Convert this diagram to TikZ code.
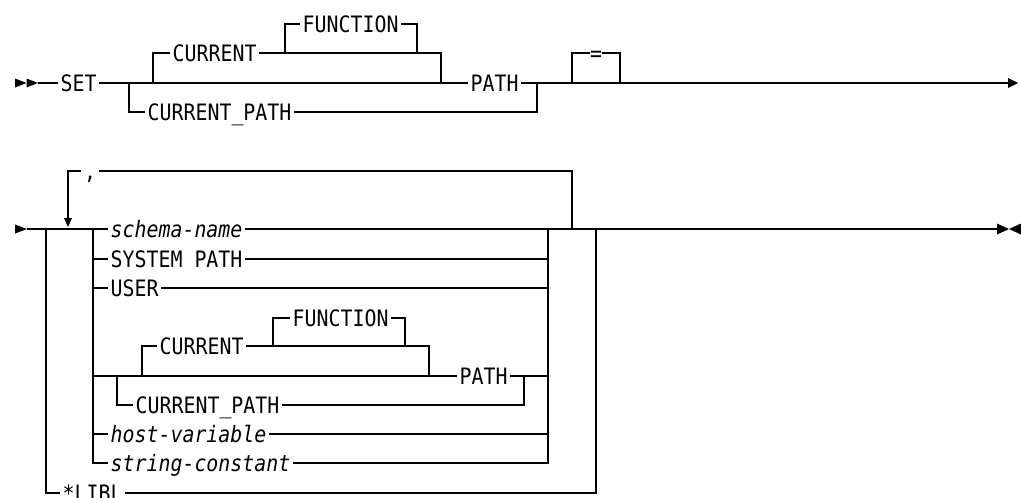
\documentclass[tikz,border=0pt]{standalone}
\usepackage{fontspec}
\setmainfont[FakeStretch=0.88]{DejaVu Sans Mono}
\begin{document}
\begin{tikzpicture}[x=1pt,y=-1pt,line width=1.4pt,
  lbl/.style={inner xsep=2pt,inner ysep=0pt,text height=16.5pt,text depth=0pt,anchor=west,
    font=\fontsize{22.6}{27}\selectfont},
  every path/.style={line cap=butt,line join=miter}]
\useasboundingbox (0,0) rectangle (1021,498);
% ---------- row 1 ----------
\fill (15,78.5) -- (26.5,83) -- (15,87.5) -- cycle;
\fill (26.5,78.5) -- (38,83) -- (26.5,87.5) -- cycle;
\coordinate (s1) at (38,83);
\node[lbl] (set) at (58,83) {SET};
\coordinate (j1) at (129,83);
\coordinate (j2) at (153,83);
\node[lbl] (cur1) at (170,53) {CURRENT};
\coordinate (j3) at (285,53);
\node[lbl] (fun1) at (300,24) {FUNCTION};
\coordinate (j4) at (417,53);
\coordinate (j5u) at (441,53);
\coordinate (j5) at (441,83);
\node[lbl] (path1) at (468,83) {PATH};
\node[lbl] (cp1) at (145,112) {CURRENT\_PATH};
\coordinate (j6) at (537,83);
\coordinate (e1) at (572,83);
\coordinate (e2) at (620,83);
\node[lbl,anchor=center,inner xsep=-1pt] (eq) at (596,53) {=};
\coordinate (end1) at (1008,83);
\draw (s1) -- (set.west);
\draw (set.east) -- (j1) -- (j5) -- (path1.west);
\draw (j2) |- (cur1.west);
\draw (cur1.east) -- (j5u) -- (j5);
\draw (j3) |- (fun1.west);
\draw (fun1.east) -| (j4);
\draw (j1) |- (cp1.west);
\draw (cp1.east) -| (j6);
\draw (path1.east) -- (end1);
\draw (e1) |- (eq.west);
\draw (eq.east) -| (e2);
\fill (1008,78) -- (1018,83) -- (1008,88) -- cycle;
% ---------- row 2 ----------
\fill (15,224.5) -- (27,229) -- (15,233.5) -- cycle;
\coordinate (s2) at (27,229);
\coordinate (k1) at (46,229);
\coordinate (k3) at (93,229);
\node[lbl] (schema) at (108,229) {\itshape schema-name};
\node[lbl] (sys) at (108,259) {SYSTEM PATH};
\node[lbl] (user) at (108,288) {USER};
\coordinate (g1) at (117,376);
\coordinate (g2) at (142,376);
\node[lbl] (cur2) at (157,346) {CURRENT};
\coordinate (g3) at (273,346);
\node[lbl] (fun2) at (290,318) {FUNCTION};
\coordinate (g4) at (405,346);
\coordinate (g5u) at (429,346);
\coordinate (g5) at (429,376);
\node[lbl] (path2) at (457,376) {PATH};
\node[lbl] (cp2) at (133,405) {CURRENT\_PATH};
\coordinate (g6) at (524,376);
\node[lbl] (host) at (108,434) {\itshape host-variable};
\node[lbl] (str) at (108,463) {\itshape string-constant};
\node[lbl] (libl) at (60,493) {*LIBL};
\coordinate (r1) at (548,229);
\coordinate (r2) at (572,229);
\coordinate (r3) at (596,229);
\node[lbl,anchor=center] (comma) at (90,171) {,};
\coordinate (lp) at (68,171);
\coordinate (lpd) at (68,218);
\coordinate (end2) at (997,229);
\draw (s2) -- (schema.west);
\draw (schema.east) -- (r3) -- (end2);
\draw (k3) |- (str.west);
\draw (k3 |- sys.west) -- (sys.west);
\draw (k3 |- user.west) -- (user.west);
\draw (k3 |- host.west) -- (host.west);
\draw (sys.east) -- (r1 |- sys.east);
\draw (user.east) -- (r1 |- user.east);
\draw (host.east) -- (r1 |- host.east);
\draw (str.east) -| (r1);
\draw (k3 |- path2.west) -- (path2.west);
\draw (g1) |- (cp2.west);
\draw (g2) |- (cur2.west);
\draw (cur2.east) -- (g5u) -- (g5);
\draw (g3) |- (fun2.west);
\draw (fun2.east) -| (g4);
\draw (path2.east) -- (r1 |- path2.east);
\draw (cp2.east) -| (g6);
\draw (r2) |- (comma.east);
\draw (comma.west) -- (lp) -- (lpd);
\fill (64,218) -- (72,218) -- (68,227) -- cycle;
\draw (k1) |- (libl.west);
\draw (libl.east) -| (r3);
\fill (997,223.5) -- (1009,229) -- (997,234.5) -- cycle;
\fill (1021,223.5) -- (1009,229) -- (1021,234.5) -- cycle;
\end{tikzpicture}
\end{document}
